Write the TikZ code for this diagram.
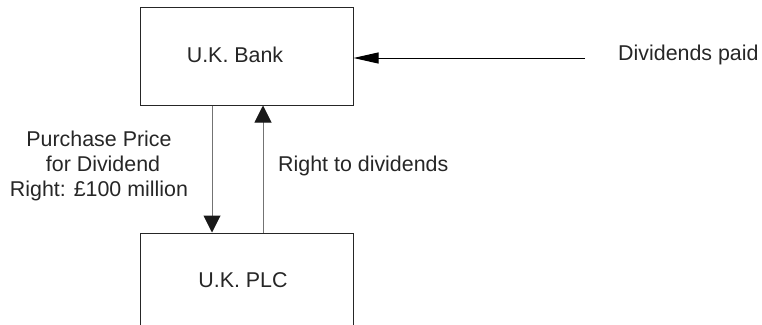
\documentclass[tikz,border=0pt]{standalone}
\usepackage{fontspec}
\setmainfont{Liberation Sans}
\usetikzlibrary{arrows.meta}
\begin{document}
\begin{tikzpicture}[x=1pt,y=-1pt,
  box/.style={draw=black!85,line width=1pt,rectangle,minimum width=213pt,minimum height=98pt,inner sep=0pt},
  lbl/.style={font=\fontsize{21.4pt}{25pt}\selectfont,text=black!85,inner sep=0pt},
  vline/.style={draw=black!55,line width=1pt,-{Triangle[length=17pt,width=17pt,color=black!90]}},
  hline/.style={draw=black,line width=1pt,-{Triangle[length=25pt,width=11pt]}}]
\useasboundingbox (0,0) rectangle (762,324);
\node[box] (bank) at (246.5,56) {};
\node[box,minimum height=100pt] (plc) at (246.5,283) {};
\node[lbl] (banktxt) at (235,55) {U.K. Bank};
\node[lbl] (plctxt) at (243,280) {U.K. PLC};
\node[lbl,align=center] (price) at (99,166) {Purchase Price\\ \hspace{8pt}for Dividend\\Right: £100 million};
\node[lbl,anchor=west] (right) at (278,166) {Right to dividends};
\node[lbl,anchor=west] (paid) at (618,55) {Dividends paid};
\coordinate (src) at (585,58);
\draw[vline] ([xshift=-34.5pt]bank.south) -- ([xshift=-34.5pt]plc.north);
\draw[vline] ([xshift=16.5pt]plc.north) -- ([xshift=16.5pt]bank.south);
\draw[hline] (src) -- (src -| bank.east);
\end{tikzpicture}
\end{document}
